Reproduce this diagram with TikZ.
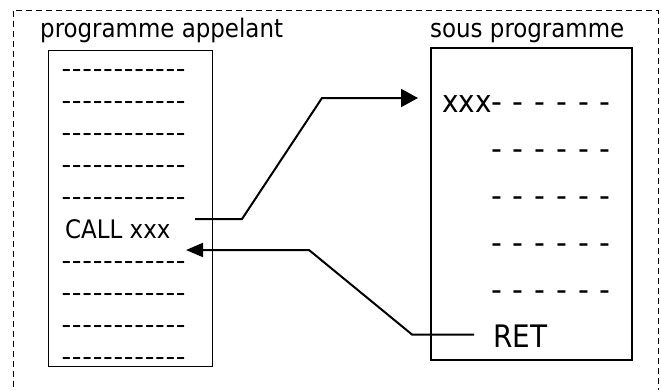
\documentclass[tikz,border=0pt]{standalone}
\usepackage{fontspec}
\setmainfont{DejaVu Sans Condensed}
\usetikzlibrary{arrows.meta}
\newcommand{\ldashes}{\foreach \i in {1,...,12}{\makebox[10.4pt]{\scalebox{1.17}[1]{-}}}}
\newcommand{\rdashes}{\foreach \i in {1,...,6}{\makebox[21.7pt][l]{\scalebox{1.08}[1]{-}}}}
\tikzset{
  lbl/.style={inner sep=0pt, font=\fontsize{25.5}{30}\selectfont},
  rtxt/.style={inner sep=0pt, font=\fontsize{31}{36}\selectfont},
  prog/.style={draw, line width=1.4pt},
  link/.style={line width=2pt},
  outer/.style={draw, line width=1pt, dash pattern=on 6pt off 4pt}
}
\begin{document}
\begin{tikzpicture}[x=1pt,y=-1pt]
\useasboundingbox (0,0) rectangle (661,389);
\draw[outer] (13.5,10.5) rectangle (658,400);
% titles
\node[lbl, anchor=base west] (t1) at (40,37) {programme appelant};
\node[lbl, anchor=base west] (t2) at (430,37) {sous programme};
% boxes
\node[prog, minimum width=164pt, minimum height=316pt, anchor=north west] (lbox) at (48,50) {};
\node[prog, line width=2pt, minimum width=201pt, minimum height=312pt, anchor=north west] (rbox) at (430,47) {};
% left program lines
\foreach \k in {0,1,2,3,4,6,7,8,9}{
  \node[lbl, anchor=base west] (l\k) at (61,77+32.1*\k) {\ldashes};
}
\node[lbl, anchor=base west] (call) at (65,238.5) {CALL xxx};
% right program lines
\node[rtxt, anchor=base east] (xxx) at (492,112) {xxx};
\foreach \k in {0,1,2,3,4}{
  \node[rtxt, anchor=base west] (r\k) at (491,112+47*\k) {\rdashes};
}
\node[rtxt, anchor=base west] (ret) at (493,347) {RET};
% call link
\coordinate (c0) at (195,219);
\coordinate (c1) at (242,219);
\coordinate (c2) at (322,98);
\coordinate (c3) at (418,98);
\draw[link, -{Triangle[length=17pt,width=18pt]}] (c0) -- (c1) -- (c2) -- (c3);
% return link
\coordinate (d0) at (474,334.5);
\coordinate (d1) at (412,334.5);
\coordinate (d2) at (309,250);
\coordinate (d3) at (186,250);
\draw[link, -{Triangle[length=17pt,width=14pt]}] (d0) -- (d1) -- (d2) -- (d3);
\end{tikzpicture}
\end{document}
